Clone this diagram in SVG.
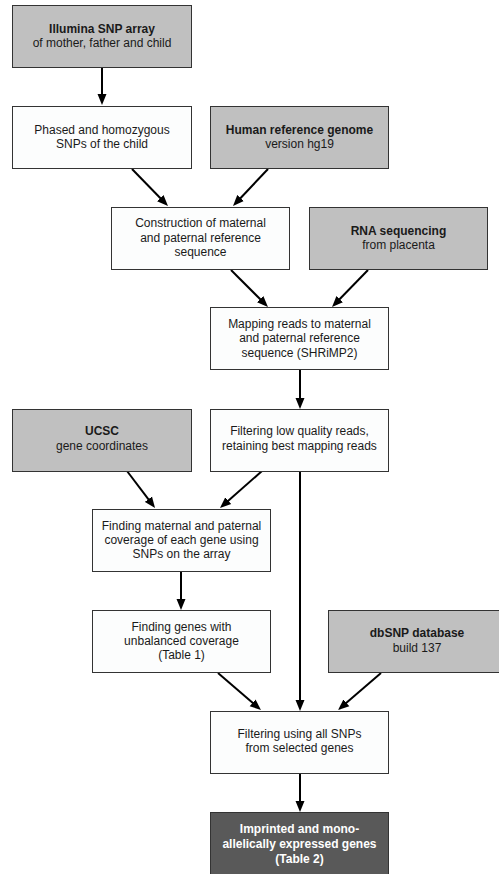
<svg xmlns="http://www.w3.org/2000/svg" width="499" height="874" viewBox="0 0 499 874">
<style>
  .box { stroke: #333; stroke-width: 1; }
  .white { fill: #fcfdfd; }
  .gray { fill: #c0c0c0; }
  .dark { fill: #595959; }
  text { font-family: "Liberation Sans", Arial, Helvetica, sans-serif; font-size: 12px; fill: #1a1a1a; text-anchor: middle; }
  .b { font-weight: bold; }
  .w { fill: #ffffff; font-weight: bold; }
  .edge { stroke: #000; stroke-width: 2; fill: none; marker-end: url(#ah); }
</style>
<defs>
  <marker id="ah" markerUnits="userSpaceOnUse" markerWidth="12" markerHeight="10" refX="3" refY="5" orient="auto">
    <path d="M0,0.5 L11,5 L0,9.5 Z" fill="#000"/>
  </marker>
</defs>
<rect width="499" height="874" fill="#ffffff"/>

<g id="connectors">
  <line class="edge" x1="102" y1="68" x2="102" y2="97"/>
  <line class="edge" x1="132" y1="169" x2="162.4" y2="200.3"/>
  <line class="edge" x1="268" y1="169" x2="238.5" y2="200.2"/>
  <line class="edge" x1="231" y1="270" x2="262.3" y2="301.3"/>
  <line class="edge" x1="368" y1="270" x2="337.6" y2="301.3"/>
  <line class="edge" x1="300" y1="370" x2="300" y2="401"/>
  <line class="edge" x1="127" y1="471" x2="150.2" y2="501.6"/>
  <line class="edge" x1="262" y1="471" x2="226" y2="502.7"/>
  <line class="edge" x1="181" y1="572" x2="181" y2="602"/>
  <line class="edge" x1="300" y1="471" x2="300" y2="703"/>
  <line class="edge" x1="218" y1="673" x2="254.9" y2="704.8"/>
  <line class="edge" x1="381" y1="673" x2="344.1" y2="704.8"/>
  <line class="edge" x1="300" y1="773" x2="300" y2="804"/>
</g>

<g id="illumina">
  <rect class="box gray" x="12.5" y="5.5" width="179" height="62"/>
  <text x="102" y="33" class="b">Illumina SNP array</text>
  <text x="102" y="47">of mother, father and child</text>
</g>

<g id="phased">
  <rect class="box white" x="12.5" y="106.5" width="179" height="62"/>
  <text x="102" y="134">Phased and homozygous</text>
  <text x="102" y="148">SNPs of the child</text>
</g>

<g id="humanref">
  <rect class="box gray" x="210.5" y="106.5" width="178" height="62"/>
  <text x="299.5" y="134" class="b">Human reference genome</text>
  <text x="299.5" y="148">version hg19</text>
</g>

<g id="construction">
  <rect class="box white" x="111.5" y="207.5" width="178" height="62"/>
  <text x="200.5" y="227">Construction of maternal</text>
  <text x="200.5" y="241.5">and paternal reference</text>
  <text x="200.5" y="255.5">sequence</text>
</g>

<g id="rnaseq">
  <rect class="box gray" x="309.5" y="207.5" width="178" height="62"/>
  <text x="398.5" y="235" class="b">RNA sequencing</text>
  <text x="398.5" y="249">from placenta</text>
</g>

<g id="mapping">
  <rect class="box white" x="210.5" y="307.5" width="178" height="62"/>
  <text x="299.5" y="327.5">Mapping reads to maternal</text>
  <text x="299.5" y="342">and paternal reference</text>
  <text x="299.5" y="356.5">sequence (SHRiMP2)</text>
</g>

<g id="ucsc">
  <rect class="box gray" x="12.5" y="409.5" width="179" height="62"/>
  <text x="102" y="435" class="b">UCSC</text>
  <text x="102" y="450">gene coordinates</text>
</g>

<g id="filtering">
  <rect class="box white" x="210.5" y="409.5" width="178" height="62"/>
  <text x="299.5" y="435">Filtering low quality reads,</text>
  <text x="299.5" y="450">retaining best mapping reads</text>
</g>

<g id="findcoverage">
  <rect class="box white" x="92.5" y="509.5" width="178" height="62"/>
  <text x="181.5" y="529.5">Finding maternal and paternal</text>
  <text x="181.5" y="543.5">coverage of each gene using</text>
  <text x="181.5" y="557.5">SNPs on the array</text>
</g>

<g id="findgenes">
  <rect class="box white" x="92.5" y="610.5" width="178" height="62"/>
  <text x="181.5" y="630.5">Finding genes with</text>
  <text x="181.5" y="644.5">unbalanced coverage</text>
  <text x="181.5" y="659">(Table 1)</text>
</g>

<g id="dbsnp">
  <rect class="box gray" x="328.5" y="610.5" width="180" height="62"/>
  <text x="417" y="637" class="b">dbSNP database</text>
  <text x="417" y="652">build 137</text>
</g>

<g id="filtersnps">
  <rect class="box white" x="210.5" y="711.5" width="178" height="62"/>
  <text x="299.5" y="737.5">Filtering using all SNPs</text>
  <text x="299.5" y="752">from selected genes</text>
</g>

<g id="imprinted">
  <rect class="box dark" x="210.5" y="812.5" width="178" height="70"/>
  <text x="299.5" y="833" class="w">Imprinted and mono-</text>
  <text x="299.5" y="848" class="w">allelically expressed genes</text>
  <text x="299.5" y="863" class="w">(Table 2)</text>
</g>
</svg>
